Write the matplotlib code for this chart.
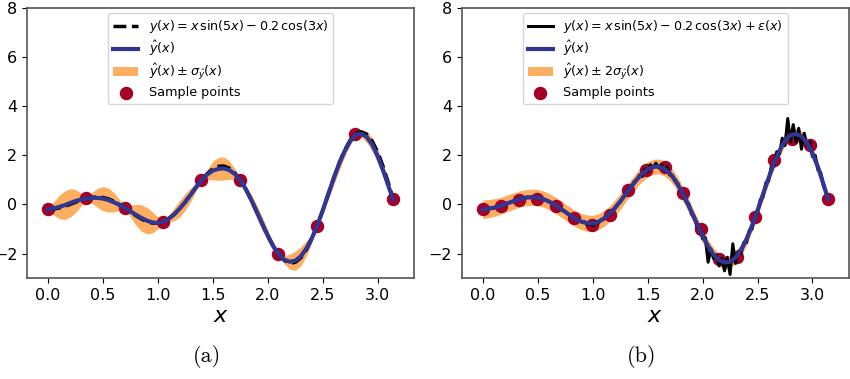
import matplotlib
matplotlib.use('Agg')
import matplotlib.pyplot as plt
import numpy as np

# grid used for the smooth curves (step 0.05, last point = pi)
x_grid = np.append(np.linspace(0, 3.10, 63), np.pi)

# true function y(x)
y_true = [-0.200, -0.185, -0.143, -0.078, 0.003, 0.091, 0.175, 0.245, 0.291, 0.306,
          0.285, 0.226, 0.130, 0.004, -0.145, -0.303, -0.458, -0.595, -0.699, -0.758,
          -0.761, -0.702, -0.579, -0.394, -0.156, 0.123, 0.425, 0.730, 1.018, 1.265,
          1.449, 1.554, 1.566, 1.475, 1.282, 0.991, 0.615, 0.173, -0.310, -0.805,
          -1.280, -1.704, -2.047, -2.283, -2.390, -2.356, -2.177, -1.856, -1.409, -0.858,
          -0.234, 0.426, 1.082, 1.694, 2.219, 2.625, 2.878, 2.960, 2.861, 2.581,
          2.133, 1.542, 0.839, 0.200]

# (a) GP mean and std
y_hat_a = [-0.20, -0.16, -0.10, -0.03, 0.06, 0.14, 0.20, 0.245, 0.27, 0.27,
           0.24, 0.18, 0.09, -0.02, -0.145, -0.28, -0.42, -0.55, -0.66, -0.73,
           -0.75, -0.70, -0.57, -0.39, -0.16, 0.11, 0.41, 0.72, 1.00, 1.23,
           1.38, 1.45, 1.47, 1.40, 1.24, 0.99, 0.62, 0.18, -0.30, -0.79,
           -1.27, -1.70, -2.03, -2.25, -2.33, -2.29, -2.11, -1.80, -1.38, -0.86,
           -0.24, 0.42, 1.07, 1.67, 2.18, 2.57, 2.84, 2.88, 2.75, 2.44,
           1.97, 1.38, 0.72, 0.20]
sigma_a = [0, .26, .47, .58, .58, .47, .26, 0,
           .22, .39, .49, .49, .39, .22, 0,
           .24, .43, .54, .54, .43, .24, 0,
           .15, .27, .34, .34, .27, .15, 0,
           .21, .38, .47, .47, .38, .21, 0,
           .13, .23, .28, .28, .23, .13, 0,
           .17, .31, .39, .39, .31, .17, 0,
           .13, .23, .28, .28, .23, .13, 0,
           .13, .23, .28, .28, .23, .13, 0]
x_samp_a = np.linspace(0, np.pi, 10)
y_samp_a = [-0.20, 0.25, -0.14, -0.71, 1.00, 0.98, -2.02, -0.88, 2.86, 0.21]

# (b) GP mean and 2*std
y_hat_b = [-0.20, -0.17, -0.13, -0.07, 0.01, 0.09, 0.17, 0.24, 0.28, 0.30,
           0.28, 0.22, 0.12, 0.00, -0.15, -0.30, -0.46, -0.60, -0.70, -0.76,
           -0.77, -0.71, -0.58, -0.39, -0.15, 0.12, 0.42, 0.72, 1.01, 1.25,
           1.43, 1.53, 1.55, 1.47, 1.28, 0.99, 0.61, 0.17, -0.31, -0.80,
           -1.28, -1.70, -2.04, -2.27, -2.36, -2.33, -2.16, -1.85, -1.41, -0.86,
           -0.24, 0.42, 1.07, 1.68, 2.19, 2.60, 2.82, 2.87, 2.78, 2.52,
           2.09, 1.52, 0.83, 0.22]
two_sigma_b = [0.38, 0.37, 0.36, 0.35, 0.34, 0.34, 0.33, 0.33, 0.33, 0.33,
               0.33, 0.33, 0.33, 0.33, 0.33, 0.33, 0.33, 0.33, 0.33, 0.33,
               0.33, 0.33, 0.32, 0.32, 0.32, 0.32, 0.31, 0.31, 0.31, 0.31,
               0.31, 0.31, 0.30, 0.30, 0.30, 0.29, 0.29, 0.28, 0.28, 0.28,
               0.27, 0.27, 0.27, 0.26, 0.26, 0.26, 0.25, 0.25, 0.25, 0.24,
               0.24, 0.24, 0.23, 0.23, 0.23, 0.22, 0.22, 0.22, 0.22, 0.21,
               0.21, 0.21, 0.20, 0.20]
x_samp_b = np.linspace(0, np.pi, 20)
y_samp_b = [-0.18, -0.08, 0.20, 0.23, -0.08, -0.54, -0.82, -0.42, 0.60, 1.41,
            1.52, 0.46, -0.99, -2.22, -2.15, -0.49, 1.82, 2.68, 2.41, 0.23]

# noisy observation curve y(x) + eps(x)
x_noisy = np.concatenate([np.linspace(0, 0.75, 16), np.linspace(0.8, 3.125, 94), [np.pi]])
y_noisy = [-0.20, -0.17, -0.15, -0.07, 0.01, 0.08, 0.18, 0.24, 0.30, 0.29,
           0.29, 0.21, 0.14, -0.01, -0.14, -0.31,
           -0.47, -0.52, -0.61, -0.64, -0.72, -0.70, -0.83, -0.74, -0.88, -0.70,
           -0.77, -0.62, -0.60, -0.46, -0.41, -0.27, -0.19, 0.01, 0.09, 0.30,
           0.40, 0.62, 0.70, 0.92, 0.98, 1.20, 1.14, 1.44, 1.33, 1.62,
           1.50, 1.68, 1.49, 1.62, 1.41, 1.55, 1.20, 1.19, 0.93, 0.86,
           0.55, 0.46, 0.10, 0.02, -0.40, -0.49, -0.93, -0.98, -1.40, -1.35,
           -2.35, -1.80, -2.20, -2.05, -2.50, -2.20, -2.70, -2.15, -2.85, -1.60,
           -2.40, -1.90, -2.00, -1.55, -1.55, -1.05, -1.00, -0.45, -0.35, 0.20,
           0.30, 0.88, 0.95, 1.55, 1.55, 2.15, 2.05, 2.70, 2.40, 3.50,
           2.55, 3.25, 2.55, 3.10, 2.25, 2.90, 2.40, 2.55, 1.95, 2.00,
           1.40, 1.30, 0.75, 0.50,
           0.22]

ORANGE = '#fdae61'
BLUE = '#313695'
RED = '#a50026'

fig = plt.figure(figsize=(8.5, 3.79), dpi=100)
ax1 = fig.add_axes([0.032, 0.266, 0.455, 0.713])
ax2 = fig.add_axes([0.5435, 0.266, 0.455, 0.713])

# (a)
ax1.fill_between(x_grid, np.array(y_hat_a) - np.array(sigma_a), np.array(y_hat_a) + np.array(sigma_a),
                 color=ORANGE, lw=0, zorder=1)
s1 = ax1.scatter(x_samp_a, y_samp_a, s=75, color=RED, zorder=2)
l1, = ax1.plot(x_grid, y_true, color='black', ls='--', lw=2.5, zorder=3)
l2, = ax1.plot(x_grid, y_hat_a, color=BLUE, lw=3, zorder=4)
f1 = ax1.fill_between([], [], [], color=ORANGE, lw=0)
ax1.legend([l1, l2, f1, s1],
           [r'$y(x) = x\,\sin(5x) - 0.2\,\cos(3x)$', r'$\hat{y}(x)$',
            r'$\hat{y}(x) \pm \sigma_{\hat{y}}(x)$', 'Sample points'],
           loc='upper center', fontsize=9.2, scatterpoints=1, labelspacing=0.3,
           borderaxespad=0.4)

# (b)
ax2.fill_between(x_grid, np.array(y_hat_b) - np.array(two_sigma_b), np.array(y_hat_b) + np.array(two_sigma_b),
                 color=ORANGE, lw=0, zorder=1)
s2 = ax2.scatter(x_samp_b, y_samp_b, s=75, color=RED, zorder=2)
l3, = ax2.plot(x_noisy, y_noisy, color='black', lw=2.2, zorder=3)
l4, = ax2.plot(x_grid, y_hat_b, color=BLUE, lw=3, zorder=4)
f2 = ax2.fill_between([], [], [], color=ORANGE, lw=0)
ax2.legend([l3, l4, f2, s2],
           [r'$y(x) = x\,\sin(5x) - 0.2\,\cos(3x) + \varepsilon(x)$', r'$\hat{y}(x)$',
            r'$\hat{y}(x) \pm 2\sigma_{\hat{y}}(x)$', 'Sample points'],
           loc='upper center', fontsize=9.2, scatterpoints=1, labelspacing=0.3,
           borderaxespad=0.4)

for ax in (ax1, ax2):
    ax.set_xlim(-0.19, 3.33)
    ax.set_ylim(-3, 8)
    ax.set_yticks([-2, 0, 2, 4, 6, 8])
    ax.set_xticks([0.0, 0.5, 1.0, 1.5, 2.0, 2.5, 3.0])
    ax.tick_params(labelsize=11.5)
    ax.set_xlabel(r'$x$', fontsize=16, labelpad=2)
    for sp in ax.spines.values():
        sp.set_color('#555555')
        sp.set_linewidth(1.2)

# captions in Computer Modern (cmr10 ships with matplotlib)
fig.text(0.243, 0.03, '(a)', ha='center', va='bottom', fontsize=16, family='cmr10')
fig.text(0.755, 0.03, '(b)', ha='center', va='bottom', fontsize=16, family='cmr10')

plt.savefig('out.png', dpi=100)
